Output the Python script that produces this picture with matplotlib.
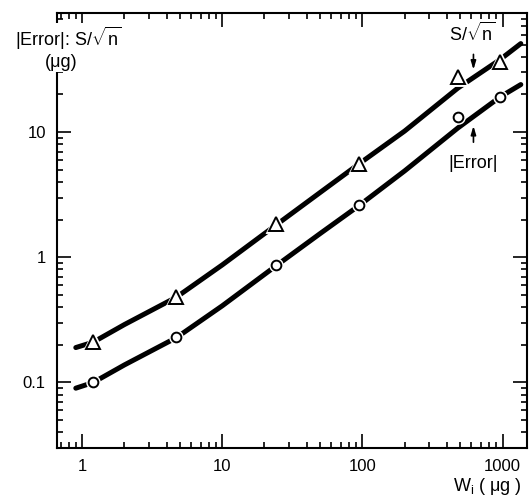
import matplotlib
matplotlib.use('Agg')
import matplotlib.pyplot as plt
from matplotlib.ticker import LogLocator, NullFormatter, FixedLocator, FixedFormatter

# --- data ---
w_points = [1.2, 4.7, 24, 95, 480, 960]
s_points = [0.209, 0.48, 1.84, 5.6, 27.5, 36.3]       # S/sqrt(n), triangles
err_points = [0.1, 0.229, 0.86, 2.6, 13.2, 19.1]      # |Error|, circles

# fitted curves (nodes)
curve_w = [0.9, 1.2, 2, 4.7, 10, 24, 50, 95, 200, 480, 960, 1350]
s_curve = [0.19, 0.21, 0.29, 0.48, 0.87, 1.8, 3.3, 5.6, 10.2, 22.5, 38, 51]
err_curve = [0.09, 0.1, 0.138, 0.228, 0.41, 0.85, 1.55, 2.6, 4.9, 10.8, 19.1, 24]

x_ticks = [1, 10, 100, 1000]
x_labels = ['1', '10', '100', '1000']
y_ticks = [0.1, 1, 10]
y_labels = ['0.1', '1', '10']

plt.rcParams['font.family'] = ['Liberation Sans', 'DejaVu Sans']
plt.rcParams['mathtext.fontset'] = 'custom'
plt.rcParams['mathtext.rm'] = 'Liberation Sans'
plt.rcParams['mathtext.sf'] = 'Liberation Sans'
plt.rcParams['mathtext.it'] = 'Liberation Sans:italic'

fig = plt.figure(figsize=(5.32, 5.01), dpi=100)
ax = fig.add_axes([0.107, 0.106, 0.884, 0.868])

# --- curves and points ---
ax.plot(curve_w, s_curve, color='black', lw=3.6, solid_capstyle='round', zorder=2)
ax.plot(curve_w, err_curve, color='black', lw=3.6, solid_capstyle='round', zorder=2)
# white halo so the thick lines break around each point
ax.plot(w_points, s_points, ls='none', marker='^', ms=9.5, mfc='white', mec='white',
        mew=3.5, zorder=3)
ax.plot(w_points, err_points, ls='none', marker='o', ms=7, mfc='white', mec='white',
        mew=3.5, zorder=3)
ax.plot(w_points, s_points, ls='none', marker='^', ms=9.5, mfc='white', mec='black',
        mew=1.4, zorder=4)
ax.plot(w_points, err_points, ls='none', marker='o', ms=7, mfc='white', mec='black',
        mew=1.4, zorder=4)

ax.set_xscale('log')
ax.set_yscale('log')
ax.set_xlim(0.66, 1500)
ax.set_ylim(0.030, 89.5)

# --- ticks ---
ax.xaxis.set_major_locator(FixedLocator(x_ticks))
ax.xaxis.set_major_formatter(FixedFormatter(x_labels))
ax.yaxis.set_major_locator(FixedLocator(y_ticks))
ax.yaxis.set_major_formatter(FixedFormatter(y_labels))
ax.xaxis.set_minor_locator(LogLocator(base=10, subs=range(2, 10)))
ax.yaxis.set_minor_locator(LogLocator(base=10, subs=range(2, 10)))
ax.xaxis.set_minor_formatter(NullFormatter())
ax.yaxis.set_minor_formatter(NullFormatter())
ax.tick_params(which='both', direction='in', top=True, right=True, width=1.2,
               labelsize=12, color='black')
ax.tick_params(which='major', length=10, pad=8)
ax.tick_params(which='minor', length=4.5)
for s in ax.spines.values():
    s.set_linewidth(1.5)

# --- labels and arrows ---
fig.text(0.128, 0.924, '|Error|: S/$\\sqrt{\\mathrm{n}}$', fontsize=13,
         ha='center', va='center',
         bbox=dict(facecolor='white', edgecolor='none', pad=1))
fig.text(0.115, 0.876, '(μg)', fontsize=13, ha='center', va='center',
         bbox=dict(facecolor='white', edgecolor='none', pad=1))
fig.text(0.917, 0.028, 'W$_\\mathregular{i}$ ( μg )', fontsize=13, ha='center',
         va='center')

ax.annotate('', xy=(620, 30), xytext=(620, 44),
            arrowprops=dict(arrowstyle='-|>,head_length=0.5,head_width=0.15',
                            color='black', lw=1.2))
ax.text(610, 62, 'S/$\\sqrt{\\mathrm{n}}$', fontsize=13, ha='center', va='center')
ax.annotate('', xy=(620, 11.8), xytext=(620, 7.9),
            arrowprops=dict(arrowstyle='-|>,head_length=0.5,head_width=0.15',
                            color='black', lw=1.2))
ax.text(620, 5.6, '|Error|', fontsize=13, ha='center', va='center')

fig.savefig('out.png', dpi=100)
